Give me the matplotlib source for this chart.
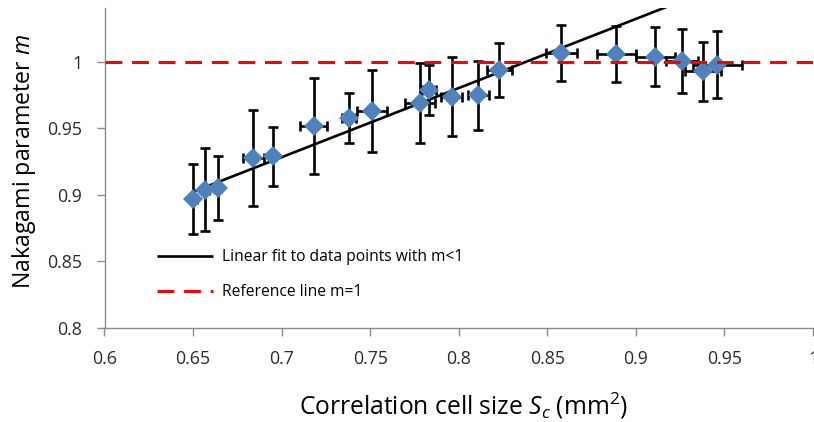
import matplotlib
matplotlib.use("Agg")
import matplotlib.pyplot as plt
import numpy as np

# ---- data ----
cell_size = [0.650, 0.657, 0.664, 0.684, 0.695, 0.718, 0.738, 0.751, 0.778, 0.783,
             0.796, 0.811, 0.823, 0.858, 0.889, 0.911, 0.926, 0.938, 0.946]
m_param = [0.897, 0.904, 0.905, 0.928, 0.929, 0.952, 0.958, 0.963, 0.969, 0.979,
           0.974, 0.975, 0.994, 1.007, 1.006, 1.004, 1.001, 0.993, 0.998]
m_err = [0.026, 0.031, 0.024, 0.036, 0.022, 0.036, 0.019, 0.031, 0.030, 0.019,
         0.030, 0.026, 0.020, 0.021, 0.021, 0.022, 0.024, 0.022, 0.025]
size_err = [0.002, 0.002, 0.002, 0.006, 0.002, 0.0075, 0.004, 0.0085, 0.0085, 0.004,
            0.006, 0.006, 0.0073, 0.009, 0.011, 0.011, 0.009, 0.010, 0.014]
fit_slope = 0.52
fit_intercept = 0.5644
fit_range = [0.650, 0.95]
ref_m = 1.0
x_ticks = [0.6, 0.65, 0.7, 0.75, 0.8, 0.85, 0.9, 0.95, 1.0]
x_tick_labels = ["0.6", "0.65", "0.7", "0.75", "0.8", "0.85", "0.9", "0.95", "1"]
y_ticks = [0.8, 0.85, 0.9, 0.95, 1.0]
y_tick_labels = ["0.8", "0.85", "0.9", "0.95", "1"]
legend_labels = ["Linear fit to data points with m<1", "Reference line m=1"]

plt.rcParams['font.family'] = ['Open Sans', 'DejaVu Sans']
plt.rcParams['mathtext.fontset'] = 'custom'
plt.rcParams['mathtext.rm'] = 'Open Sans'
plt.rcParams['mathtext.it'] = 'Open Sans:italic'

W, H = 814, 422
DPI = 100
PX = 72.0 / DPI  # points per pixel
fig = plt.figure(figsize=(W / DPI, H / DPI), dpi=DPI)
ax = fig.add_axes([104.5 / W, (H - 328) / H, 708.5 / W, 320 / H])
ax.set_xlim(0.6, 1.0)
ax.set_ylim(0.8, 1.0406)

spine_c = '#8c8c8c'
for s in ['top', 'right']:
    ax.spines[s].set_visible(False)
for s in ['left', 'bottom']:
    ax.spines[s].set_color(spine_c)
    ax.spines[s].set_linewidth(1.0)
ax.tick_params(direction='out', length=8 * PX, width=1.0, color=spine_c,
               labelsize=12.8, labelcolor='#2b2b2b')
ax.tick_params(axis='x', pad=14 * PX)
ax.tick_params(axis='y', pad=14 * PX)
ax.set_xticks(x_ticks)
ax.set_xticklabels(x_tick_labels)
ax.set_yticks(y_ticks)
ax.set_yticklabels(y_tick_labels)

xf = np.array(fit_range)
fit_line, = ax.plot(xf, fit_slope * xf + fit_intercept, color='black', lw=1.9,
                    zorder=2, solid_capstyle='butt')
ax.errorbar(cell_size, m_param, yerr=m_err, xerr=size_err, fmt='none',
            ecolor='black', elinewidth=1.9, capsize=3.6, capthick=1.9, zorder=3)
ax.plot(cell_size, m_param, linestyle='none', marker='D', markersize=10.5,
        color='#4f81bd', markeredgewidth=0, zorder=4)
ref_line = ax.axhline(ref_m, color='#ff0000', lw=2.2, linestyle=(0, (5.5, 3.2)),
                      zorder=5)

renderer = fig.canvas.get_renderer()


def fit_size(txt, target_px, dim='width', base=14.0):
    txt.set_fontsize(base)
    bb = txt.get_window_extent(renderer)
    cur = bb.width if dim == 'width' else bb.height
    txt.set_fontsize(base * target_px / cur)


# axis labels
ylab = ax.set_ylabel("Nakagami parameter $m$")
fit_size(ylab, 257, 'height')
ylab.set_va('center')
ax.yaxis.set_label_coords((24 - 104.5) / 708.5, (328 - 161) / 320)

xlab = ax.set_xlabel("Correlation cell size $S_c$ (mm$^2$)")
fit_size(xlab, 331, 'width')
xlab.set_va('center')
ax.xaxis.set_label_coords((463 - 104.5) / 708.5, (328 - 406) / 320)

# legend: size chosen so the first label is as wide as in the reference
probe = fig.text(0, 0, legend_labels[0])
fit_size(probe, 243, 'width')
leg_fs = probe.get_fontsize()
probe.remove()
fs_px = leg_fs / PX


def make_legend(spacing):
    return ax.legend([fit_line, ref_line], legend_labels,
                     loc='center left', bbox_to_anchor=(157 / W, 1 - 274.5 / H),
                     bbox_transform=fig.transFigure, frameon=False,
                     fontsize=leg_fs, handlelength=56 / fs_px,
                     handletextpad=9 / fs_px, labelspacing=spacing,
                     borderpad=0, borderaxespad=0)


leg = make_legend(0.0)
fig.canvas.draw()
t1, t2 = [t.get_window_extent(renderer) for t in leg.get_texts()]
d0 = (t1.y0 + t1.y1) / 2 - (t2.y0 + t2.y1) / 2
leg.remove()
leg = make_legend((35 - d0) / fs_px)

fig.savefig("out.png", dpi=DPI)
